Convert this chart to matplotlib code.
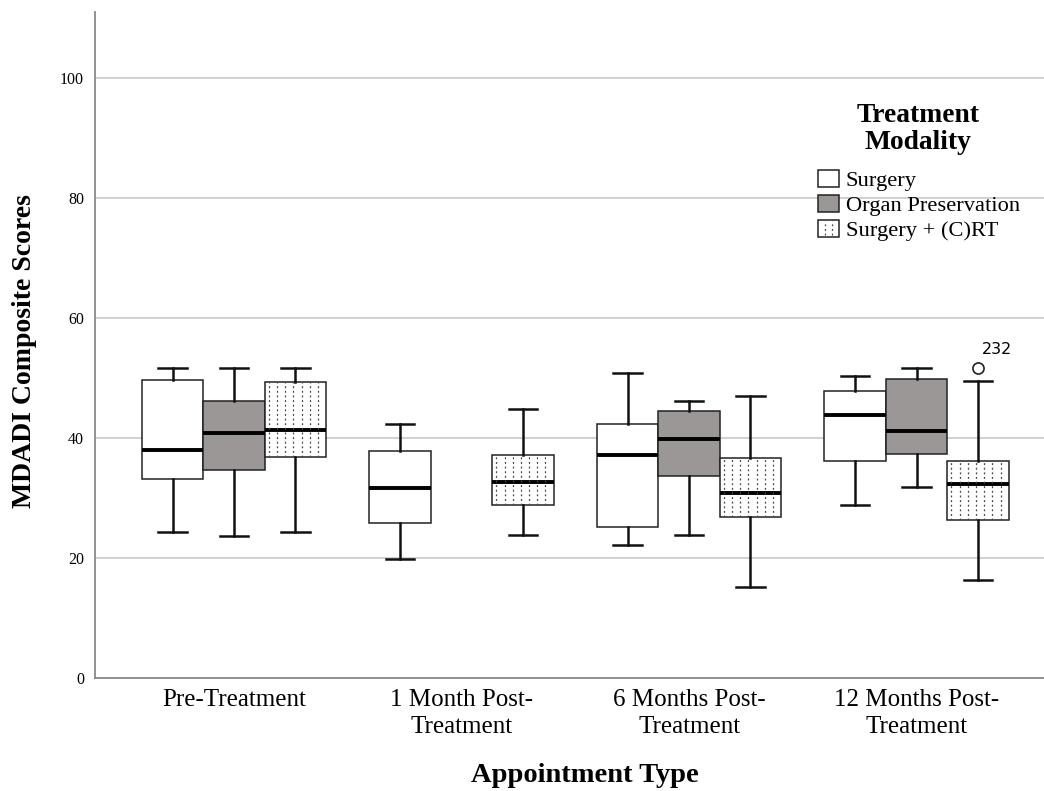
import numpy as np
import matplotlib
matplotlib.use('Agg')
import matplotlib.pyplot as plt
from matplotlib.patches import Patch, Rectangle
from matplotlib.lines import Line2D
from matplotlib.legend_handler import HandlerPatch

plt.rcParams['font.family'] = ['Liberation Serif', 'DejaVu Serif']

appointments = ['Pre-Treatment', '1 Month Post-\nTreatment',
                '6 Months Post-\nTreatment', '12 Months Post-\nTreatment']
modalities = ['Surgery', 'Organ Preservation', 'Surgery + (C)RT']

# box statistics, one list per modality (None = no box)
surgery_lo = [24.3, 19.8, 22.2, 28.8]
surgery_q1 = [33.1, 25.9, 25.1, 36.2]
surgery_med = [38.0, 31.6, 37.1, 43.8]
surgery_q3 = [49.6, 37.8, 42.4, 47.9]
surgery_hi = [51.7, 42.4, 50.8, 50.4]

organ_lo = [23.7, None, 23.9, 31.8]
organ_q1 = [34.7, None, 33.6, 37.4]
organ_med = [40.8, None, 39.8, 41.2]
organ_q3 = [46.1, None, 44.5, 49.8]
organ_hi = [51.7, None, 46.1, 51.7]

crt_lo = [24.3, 23.8, 15.1, 16.4]
crt_q1 = [36.9, 28.9, 26.9, 26.4]
crt_med = [41.3, 32.6, 30.9, 32.3]
crt_q3 = [49.3, 37.2, 36.6, 36.1]
crt_hi = [51.7, 44.9, 47.0, 49.5]
crt_fliers = [[], [], [], [51.7]]
crt_flier_ids = [[], [], [], ['232']]

fig = plt.figure(figsize=(10.44, 7.91), dpi=100)
ax = fig.add_axes([95/1044, 113/791, 949/1044, 666/791])

width = 0.27
offsets = [-width, 0, width]
colors = ['white', '#9b9797', 'white']

series = [
    (surgery_lo, surgery_q1, surgery_med, surgery_q3, surgery_hi, [[]]*4),
    (organ_lo, organ_q1, organ_med, organ_q3, organ_hi, [[]]*4),
    (crt_lo, crt_q1, crt_med, crt_q3, crt_hi, crt_fliers),
]

crt_boxes = []
for k, (lo, q1, med, q3, hi, fl) in enumerate(series):
    stats = []
    pos = []
    for i in range(len(appointments)):
        if med[i] is None:
            continue
        stats.append(dict(whislo=lo[i], q1=q1[i], med=med[i], q3=q3[i],
                          whishi=hi[i], fliers=fl[i]))
        pos.append(i + offsets[k])
    res = ax.bxp(stats, positions=pos, widths=width, capwidths=0.125,
                 patch_artist=True, showfliers=True,
                 boxprops=dict(facecolor=colors[k], edgecolor='#222222', linewidth=1.1),
                 medianprops=dict(color='black', linewidth=2.8),
                 whiskerprops=dict(color='#111111', linewidth=1.8),
                 capprops=dict(color='#111111', linewidth=1.8),
                 flierprops=dict(marker='o', markerfacecolor='none',
                                 markeredgecolor='#222222', markersize=8,
                                 markeredgewidth=1.2))
    for b in res['boxes']:
        b.set_zorder(2)
    if k == 2:
        crt_boxes = list(zip(res['boxes'], pos, [s['q1'] for s in stats],
                             [s['q3'] for s in stats]))

# dotted fill of the Surgery + (C)RT boxes
step = width / 7.5
for patch, p, a, b in crt_boxes:
    xs = np.arange(p - width/2 + step/2, p + width/2, step)
    lc = ax.vlines(xs, a, b, colors='#444444', linewidth=0.9,
                   linestyles=(0, (1.5, 2.2)), zorder=2.1)
    lc.set_clip_path(patch)

# outlier id
for i, ids in enumerate(crt_flier_ids):
    for val, name in zip(crt_fliers[i], ids):
        ax.annotate(name, (i + offsets[2], val), xytext=(3, 8),
                    textcoords='offset points', fontsize=11.5,
                    family='DejaVu Sans', ha='left', va='bottom')

ax.set_xlim(-0.611, 3.56)
ax.set_ylim(0, 111)
ax.set_yticks([0, 20, 40, 60, 80, 100])
ax.set_xticks(range(len(appointments)))
ax.set_xticklabels(appointments, fontsize=18, linespacing=1.3)
ax.tick_params(axis='y', length=0, labelsize=11.5, pad=8)
ax.tick_params(axis='x', length=0, pad=8)
ax.yaxis.grid(True, color='#c8c8c8', linewidth=1.2)
ax.set_axisbelow(True)
for s in ['top', 'right']:
    ax.spines[s].set_visible(False)
for s in ['left', 'bottom']:
    ax.spines[s].set_color('#888888')
    ax.spines[s].set_linewidth(1.3)

fig.text(25/1044, 1 - 351/791, 'MDADI Composite Scores', rotation=90,
         ha='center', va='center', fontsize=20, fontweight='bold')
fig.text(585/1044, 1 - 775/791, 'Appointment Type', ha='center', va='center',
         fontsize=20.5, fontweight='bold')


class DottedHandler(HandlerPatch):
    def create_artists(self, legend, orig_handle, xdescent, ydescent,
                       width, height, fontsize, trans):
        r = Rectangle((-xdescent, -ydescent), width, height, facecolor='white',
                      edgecolor='#222222', linewidth=1.1, transform=trans)
        arts = [r]
        for fx in (0.33, 0.67):
            x = -xdescent + fx * width
            arts.append(Line2D([x, x], [-ydescent + 1, -ydescent + height - 1],
                               color='#444444', linewidth=0.9,
                               linestyle=(0, (1.5, 2.2)), transform=trans))
        return arts


# legend title drawn separately so the gap below it matches
fig.text(918/1044, 1 - 129/791, 'Treatment\nModality', ha='center',
         va='center', multialignment='center', fontsize=19.8,
         fontweight='bold', linespacing=1.13)

handles = [Patch(facecolor=c, edgecolor='#222222', linewidth=1.1) for c in colors]
leg = fig.legend(handles, modalities, loc='upper left',
                 bbox_to_anchor=(818/1044, 1 - 170/791),
                 frameon=False, fontsize=16.2, handlelength=0.95,
                 handleheight=0.8, handletextpad=0.28, labelspacing=0.15,
                 borderpad=0, borderaxespad=0,
                 handler_map={handles[2]: DottedHandler()})

fig.savefig('out.png', dpi=100)
